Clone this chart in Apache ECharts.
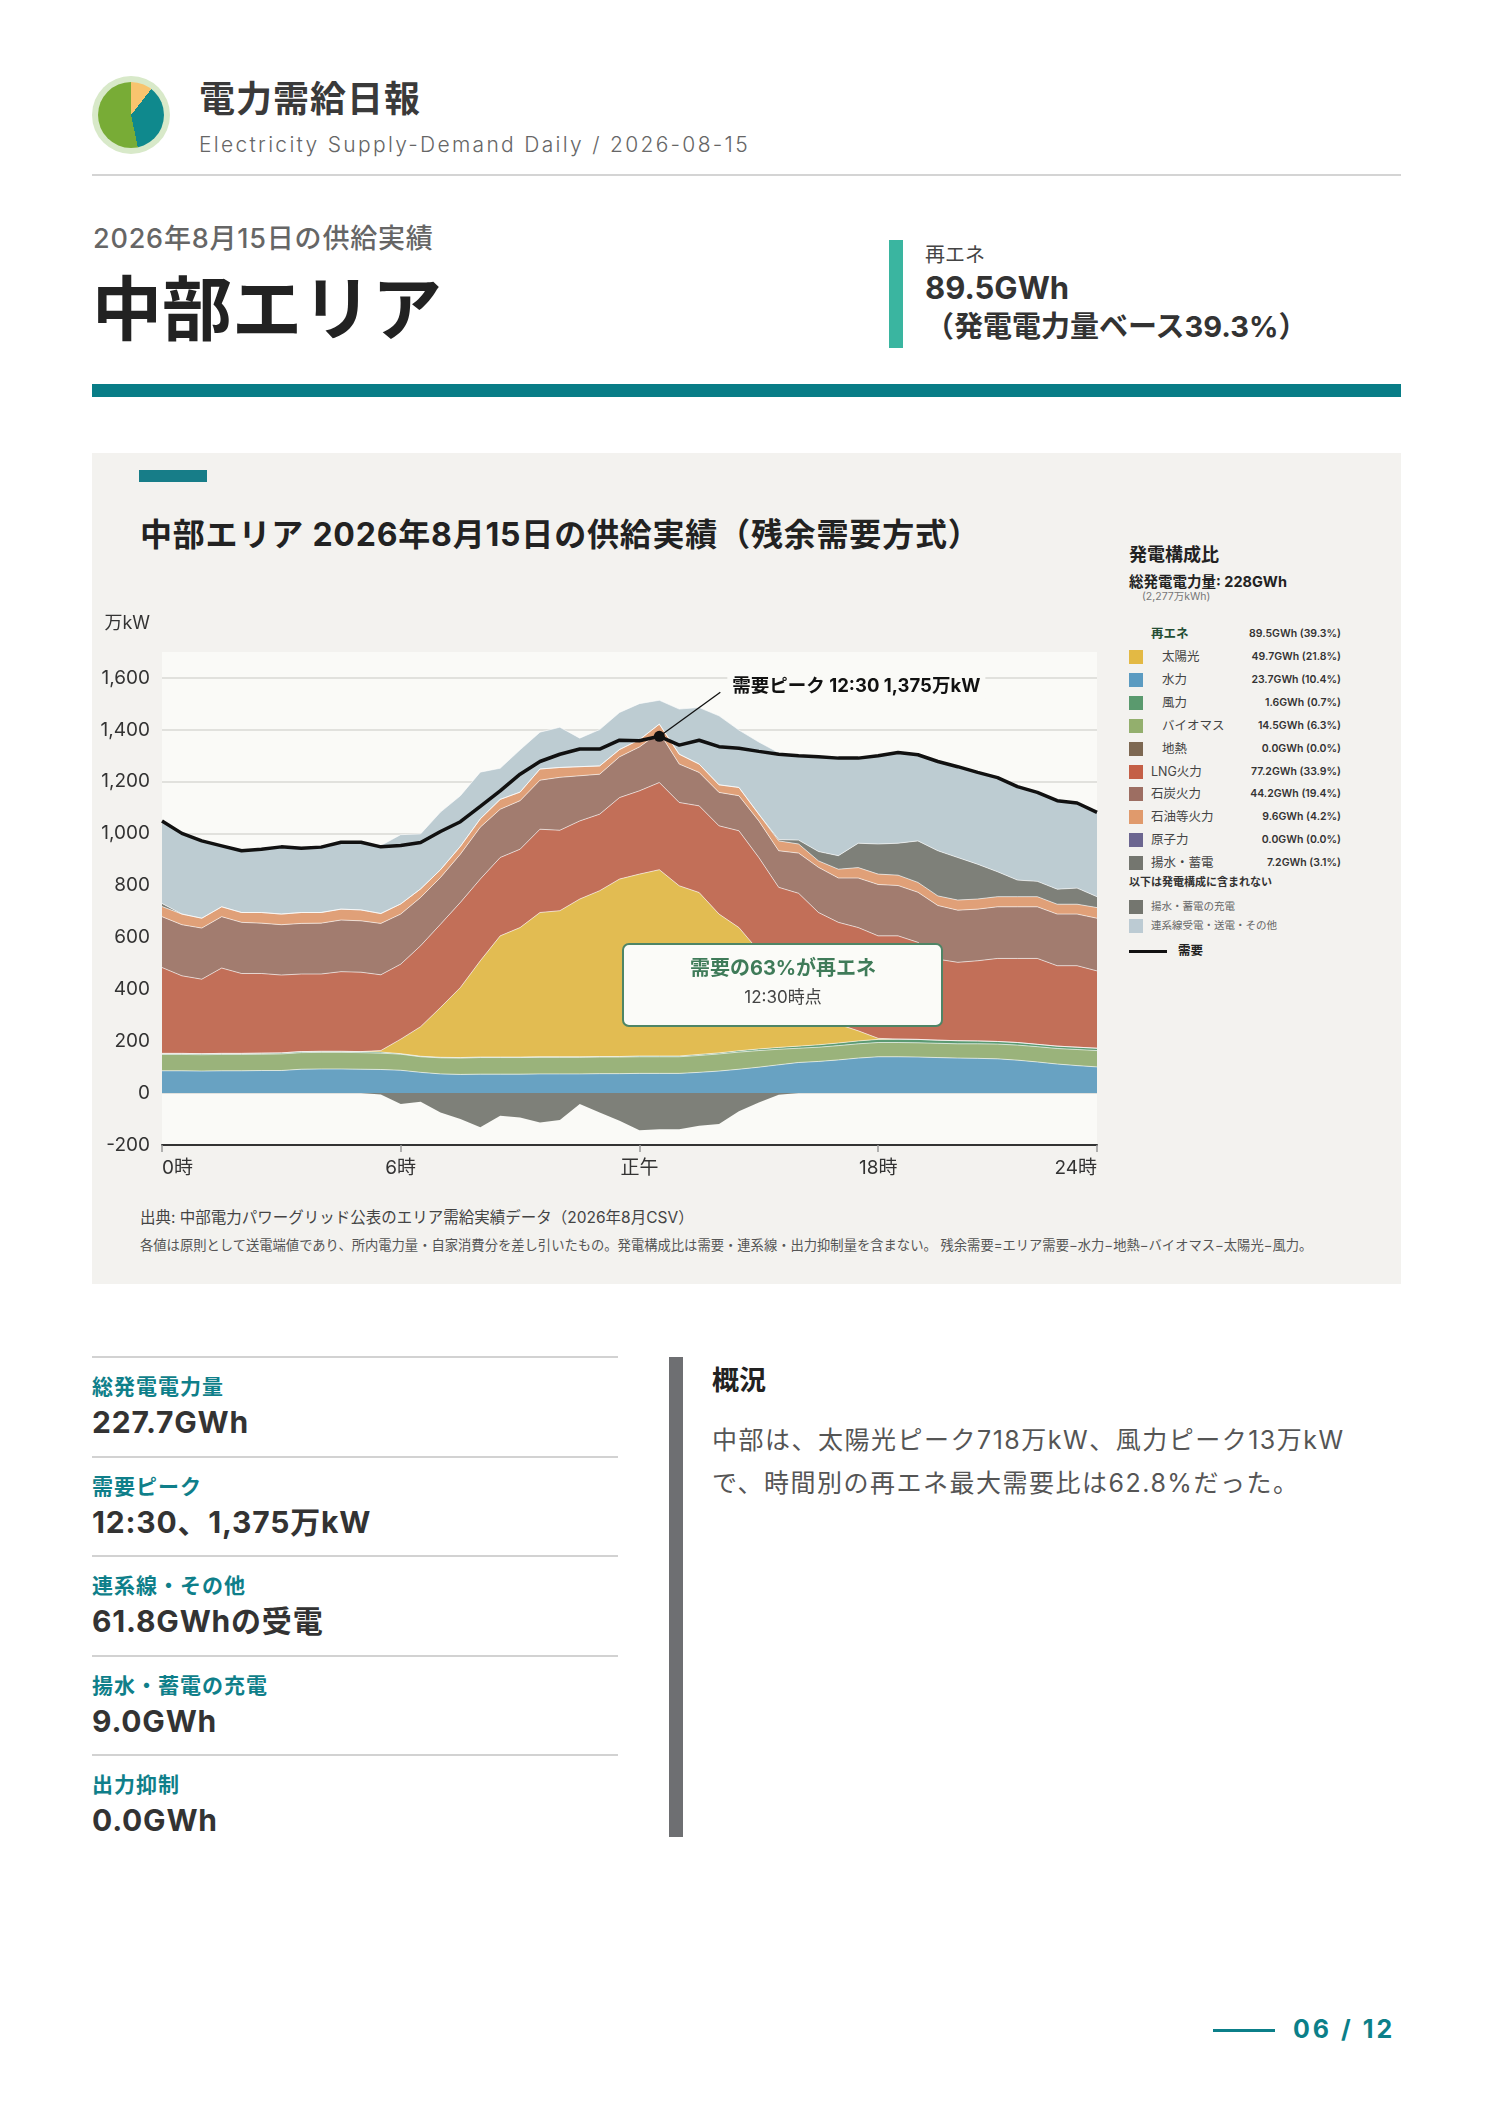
<!DOCTYPE html>
<html lang="ja">
<head>
<meta charset="utf-8">
<title>電力需給日報 中部エリア 2026-08-15</title>
<script src="https://cdn.jsdelivr.net/npm/echarts@6.0.0/dist/echarts.min.js"></script>
<style>
html,body{margin:0;padding:0;background:#fff;}
body{position:relative;width:1488px;height:2105px;overflow:hidden;font-family:"Inter","Noto Sans CJK JP","Noto Sans",sans-serif;color:#333;}
.a{position:absolute;white-space:nowrap;}
#logo{left:92px;top:76px;width:78px;height:78px;border-radius:50%;background:#d8e9c9;}
#logo .pie{position:absolute;left:6px;top:6px;width:66px;height:66px;border-radius:50%;
  background:conic-gradient(#f8c46e 0deg 38deg,#0f898d 38deg 168deg,#78ac36 168deg 360deg);}
#brand{left:199px;top:76px;line-height:46px;font-size:36px;font-weight:700;color:#3a3a3a;letter-spacing:1px;}
#sub{left:199px;top:130px;line-height:30px;font-size:21px;font-weight:300;color:#666;letter-spacing:2.3px;}
#rule1{left:92px;top:174px;width:1309px;height:2px;background:#d4d4d4;}
#date{left:93px;top:221px;line-height:36px;font-size:27px;font-weight:500;color:#666;letter-spacing:0.8px;}
#area{left:92px;top:265px;line-height:90px;font-size:70px;font-weight:700;color:#222;}
#kbar{left:889px;top:240px;width:14px;height:108px;background:#3ab5a0;}
#klab{left:925px;top:242px;line-height:26px;font-size:20px;color:#444;}
#kval{left:925px;top:270px;line-height:36px;font-size:31px;font-weight:700;color:#333;}
#ksub{left:925px;top:309px;line-height:36px;font-size:29px;font-weight:700;color:#333;}
#rule2{left:92px;top:384px;width:1309px;height:13px;background:#087d87;}
#panel{left:92px;top:453px;width:1309px;height:831px;background:#f3f2ef;}
#accent{left:139px;top:470px;width:68px;height:12px;background:#177d88;}
#ctitle{left:140px;top:512px;line-height:46px;font-size:32px;font-weight:700;color:#222;letter-spacing:0.8px;}
#chart{position:absolute;left:92px;top:600px;width:1020px;height:600px;}
#lgTitle{left:1129px;top:542px;line-height:26px;font-size:18px;font-weight:700;color:#222;}
#lgTotal{left:1129px;top:572px;line-height:20px;font-size:14.5px;font-weight:700;color:#222;}
#lgTotalSub{left:1142px;top:590px;line-height:14px;font-size:10.5px;color:#777;}
.row{position:absolute;left:1129px;width:212px;height:22px;line-height:22px;font-size:12.5px;color:#444;}
.row .sw{position:absolute;left:0;top:4px;width:14px;height:14px;}
.row .nm{position:absolute;top:0;}
.row .vl{position:absolute;right:0;top:0;font-size:10.5px;font-weight:600;color:#333;}
#lgNote{left:1129px;top:874px;line-height:16px;font-size:11px;font-weight:700;color:#333;}
#src{left:140px;top:1207px;line-height:22px;font-size:15.5px;color:#444;}
#note{left:140px;top:1236px;line-height:18px;font-size:13.3px;color:#555;}
.srule{position:absolute;left:92px;width:526px;height:2px;background:#d2d2d2;}
.slab{position:absolute;left:92px;line-height:28px;font-size:21px;font-weight:700;color:#0f7f8a;white-space:nowrap;letter-spacing:1px;}
.sval{position:absolute;left:92px;line-height:38px;font-size:30px;font-weight:700;color:#333;white-space:nowrap;letter-spacing:0.8px;}
#gbar{left:669px;top:1357px;width:14px;height:480px;background:#6e6f72;}
#gh{left:712px;top:1363px;line-height:36px;font-size:27px;font-weight:700;color:#222;}
#gp{left:712px;top:1419px;line-height:43px;font-size:25px;color:#555;letter-spacing:1.5px;}
#pline{left:1213px;top:2029px;width:62px;height:3px;background:#0b7f89;}
#pnum{left:1293px;top:2012px;line-height:34px;font-size:25px;font-weight:700;color:#0b7f89;letter-spacing:3px;}
</style>
</head>
<body>
<div class="a" id="logo"><div class="pie"></div></div>
<div class="a" id="brand">電力需給日報</div>
<div class="a" id="sub">Electricity Supply-Demand Daily / 2026-08-15</div>
<div class="a" id="rule1"></div>
<div class="a" id="date">2026年8月15日の供給実績</div>
<div class="a" id="area">中部エリア</div>
<div class="a" id="kbar"></div>
<div class="a" id="klab">再エネ</div>
<div class="a" id="kval">89.5GWh</div>
<div class="a" id="ksub">（発電電力量ベース39.3%）</div>
<div class="a" id="rule2"></div>

<div class="a" id="panel"></div>
<div class="a" id="accent"></div>
<div class="a" id="ctitle">中部エリア 2026年8月15日の供給実績（残余需要方式）</div>
<div id="chart"></div>
<div class="a" id="lgTitle">発電構成比</div>
<div class="a" id="lgTotal">総発電電力量: 228GWh</div>
<div class="a" id="lgTotalSub">(2,277万kWh)</div>
<div id="legend"></div>
<div class="a" id="lgNote">以下は発電構成に含まれない</div>
<div class="a" id="src">出典: 中部電力パワーグリッド公表のエリア需給実績データ（2026年8月CSV）</div>
<div class="a" id="note">各値は原則として送電端値であり、所内電力量・自家消費分を差し引いたもの。発電構成比は需要・連系線・出力抑制量を含まない。 残余需要=エリア需要−水力−地熱−バイオマス−太陽光−風力。</div>

<div id="stats"></div>
<div class="a" id="gbar"></div>
<div class="a" id="gh">概況</div>
<div class="a" id="gp">中部は、太陽光ピーク718万kW、風力ピーク13万kW<br>で、時間別の再エネ最大需要比は62.8%だった。</div>
<div class="a" id="pline"></div>
<div class="a" id="pnum">06 / 12</div>

<script>
// 30分値（万kW）
var times = ['0:00','0:30','1:00','1:30','2:00','2:30','3:00','3:30','4:00','4:30','5:00','5:30',
  '6:00','6:30','7:00','7:30','8:00','8:30','9:00','9:30','10:00','10:30','11:00','11:30',
  '12:00','12:30','13:00','13:30','14:00','14:30','15:00','15:30','16:00','16:30','17:00','17:30',
  '18:00','18:30','19:00','19:30','20:00','20:30','21:00','21:30','22:00','22:30','23:00','23:30'];
var xTickIdx = [0, 12, 24, 36, 47];
var xTickText = ['0時', '6時', '正午', '18時', '24時'];

var hydro = [86,86,85,86,86,87,87,92,93,93,92,91, 88,80,74,72,73,73,73,74,74,74,75,75,
  76,76,76,80,85,92,100,109,118,122,128,135, 140,140,139,137,135,134,132,127,120,112,106,101];
var biomass = [63,63,63,63,63,63,64,64,64,64,64,63, 62,60,62,63,64,64,64,64,64,64,64,64,
  64,64,64,65,66,66,64,60,55,55,55,55, 55,55,55,55,55,56,57,58,59,60,62,63];
var wind = [4,4,4,4,4,4,4,4,4,4,4,4, 2,2,2,2,2,2,2,2,2,2,2,2,
  3,3,3,4,4,5,6,7,8,9,10,11, 12,13,13,12,12,11,10,10,9,9,9,9];
var solar = [0,0,0,0,0,0,0,0,0,0,0,6, 56,114,192,270,371,467,499,556,563,608,639,684,
  701,718,656,624,535,475,378,284,204,134,72,39, 4,0,0,0,0,0,0,0,0,0,0,0];
var lng = [331,299,287,329,308,307,300,299,298,307,306,292, 289,312,321,328,315,302,302,321,310,301,295,314,
  321,336,321,334,340,373,360,333,385,376,393,398, 395,398,374,312,302,309,320,324,331,310,314,298];
var coal = [196,197,197,198,197,194,194,195,196,199,198,198, 193,186,180,186,200,186,187,189,204,174,154,157,
  169,193,148,129,129,135,141,141,155,174,171,191, 198,194,193,207,201,199,199,199,199,199,199,203];
var oil = [39,41,38,38,38,41,41,42,41,42,42,38, 39,33,30,30,32,38,33,43,38,35,32,28,
  28,32,38,32,29,32,26,38,35,25,34,40, 40,40,38,37,39,39,39,39,39,38,38,41];
var pumped = [12,0,0,0,0,0,0,0,0,0,0,0, 0,0,0,0,0,0,0,0,0,0,0,0,
  0,0,0,0,0,0,0,5,15,36,52,94, 116,123,160,174,164,134,96,64,59,58,62,42];
var tieLine = [318,311,298,235,238,244,259,248,252,258,261,262, 267,212,222,195,180,120,163,142,155,110,140,143,
  139,92,174,218,266,221,278,335,325,365,376,328, 340,350,332,344,350,354,363,360,343,341,328,325];
var charge = [0,0,0,0,0,0,0,0,0,0,0,-5, -42,-33,-75,-100,-132,-87,-94,-113,-104,-42,-75,-107,
  -143,-139,-139,-126,-119,-70,-36,-6,0,0,0,0, 0,0,0,0,0,0,0,0,0,0,0,0];
var demand = [1049,1001,972,953,934,940,949,944,948,967,967,949, 954,966,1008,1046,1105,1165,1229,1278,1306,1326,1326,1360,
  1358,1375,1341,1360,1335,1329,1317,1306,1300,1296,1291,1291, 1300,1313,1304,1278,1258,1236,1216,1181,1159,1127,1118,1082];

// 発電構成比（凡例）
var genNames = ['太陽光','水力','風力','バイオマス','地熱','LNG火力','石炭火力','石油等火力','原子力','揚水・蓄電'];
var genGWh = [49.7, 23.7, 1.6, 14.5, 0.0, 77.2, 44.2, 9.6, 0.0, 7.2];
var genPct = [21.8, 10.4, 0.7, 6.3, 0.0, 33.9, 19.4, 4.2, 0.0, 3.1];
var genRenew = [true, true, true, true, true, false, false, false, false, false];
var genSwatch = ['#e3b944','#5b9bc1','#5a9a6e','#93af6d','#7d6852','#c45f46','#9d6e62','#e09a6c','#6c6690','#74766f'];
var renewGWh = 89.5, renewPct = 39.3;
var otherNames = ['揚水・蓄電の充電', '連系線受電・送電・その他'];
var otherSwatch = ['#74766f', '#bccbd3'];

var statLabels = ['総発電電力量', '需要ピーク', '連系線・その他', '揚水・蓄電の充電', '出力抑制'];
var statValues = ['227.7GWh', '12:30、1,375万kW', '61.8GWhの受電', '9.0GWh', '0.0GWh'];

var FONT = '"Inter","Noto Sans CJK JP","Noto Sans",sans-serif';

// ---- legend (HTML) ----
var lg = document.getElementById('legend');
function addRow(top, color, name, indent, value, nameStyle) {
  var r = document.createElement('div');
  r.className = 'row';
  r.style.top = top + 'px';
  var html = '';
  if (color) html += '<span class="sw" style="background:' + color + '"></span>';
  html += '<span class="nm" style="left:' + indent + 'px;' + (nameStyle || '') + '">' + name + '</span>';
  if (value) html += '<span class="vl">' + value + '</span>';
  r.innerHTML = html;
  lg.appendChild(r);
}
function fmt(g, p) { return g.toFixed(1) + 'GWh (' + p.toFixed(1) + '%)'; }
addRow(623, null, '再エネ', 22, fmt(renewGWh, renewPct), 'font-weight:700;color:#234d33;');
genNames.forEach(function (n, i) {
  addRow(646 + i * 22.9, genSwatch[i], n, genRenew[i] ? 33 : 22, fmt(genGWh[i], genPct[i]));
});
addRow(896, otherSwatch[0], otherNames[0], 22, null, 'font-size:10.5px;color:#666;');
addRow(915, otherSwatch[1], otherNames[1], 22, null, 'font-size:10.5px;color:#666;');
(function () {
  var r = document.createElement('div');
  r.className = 'row';
  r.style.top = '940px';
  r.innerHTML = '<span style="position:absolute;left:0;top:10px;width:38px;height:3px;background:#111"></span>' +
    '<span class="nm" style="left:49px;font-weight:700;color:#222;">需要</span>';
  lg.appendChild(r);
})();

// ---- stats (HTML) ----
var st = document.getElementById('stats');
var ruleTops = [1356, 1456, 1555, 1655, 1754];
statLabels.forEach(function (l, i) {
  var rule = document.createElement('div');
  rule.className = 'srule';
  rule.style.top = ruleTops[i] + 'px';
  st.appendChild(rule);
  var lab = document.createElement('div');
  lab.className = 'slab';
  lab.style.top = (ruleTops[i] + 17) + 'px';
  lab.textContent = l;
  st.appendChild(lab);
  var val = document.createElement('div');
  val.className = 'sval';
  val.style.top = (ruleTops[i] + 47) + 'px';
  val.textContent = statValues[i];
  st.appendChild(val);
});

// ---- chart ----
var chart = echarts.init(document.getElementById('chart'));
var edge = { color: 'rgba(255,255,255,0.6)', width: 1 };
function band(name, data, color) {
  return {
    name: name, type: 'line', stack: 'supply', data: data, symbol: 'none',
    lineStyle: edge, areaStyle: { color: color, opacity: 1 }, itemStyle: { color: color },
    emphasis: { disabled: true }, silent: true
  };
}
function showTick(index) { return xTickIdx.indexOf(index) >= 0; }

var option = {
  animation: false,
  textStyle: { fontFamily: FONT },
  grid: { left: 70, top: 52, width: 935, height: 493, show: true, backgroundColor: '#fafaf7', borderWidth: 0 },
  xAxis: [{
    type: 'category', data: times, boundaryGap: false,
    axisLine: { show: false }, axisTick: { show: false }, splitLine: { show: false },
    axisLabel: {
      interval: showTick, color: '#333', fontSize: 19, margin: 14, fontFamily: FONT,
      alignMinLabel: 'left', alignMaxLabel: 'right',
      formatter: function (v, idx) { return xTickText[xTickIdx.indexOf(idx)]; }
    }
  }, {
    type: 'category', data: times, boundaryGap: false, position: 'bottom', z: 10,
    axisLine: { onZero: true, lineStyle: { color: '#333', width: 2 } },
    axisTick: { show: true, interval: showTick, length: 7, lineStyle: { color: '#999', width: 1.5 } },
    axisLabel: { show: false }, splitLine: { show: false }
  }],
  yAxis: {
    type: 'value', min: -200, max: 1700, interval: 200,
    name: '万kW', nameLocation: 'end', nameGap: 19,
    nameTextStyle: { color: '#333', fontSize: 18, align: 'right', padding: [0, 12, 0, 0], fontFamily: FONT },
    axisLine: { show: false }, axisTick: { show: false },
    axisLabel: {
      color: '#333', fontSize: 19, margin: 12, showMaxLabel: false, fontFamily: FONT,
      formatter: function (v) { return v.toLocaleString('en-US'); }
    },
    splitLine: { lineStyle: { color: '#d9d9d5', width: 1.5 }, showMaxLine: false }
  },
  series: [
    band('水力', hydro, '#68a2c2'),
    band('バイオマス', biomass, '#9ab37b'),
    band('風力', wind, '#5b9a72'),
    band('太陽光', solar, '#e2bc52'),
    band('LNG火力', lng, '#c26f58'),
    band('石炭火力', coal, '#a27c6f'),
    band('石油等火力', oil, '#e0a078'),
    band('揚水・蓄電', pumped, '#7e8079'),
    band('連系線受電・送電・その他', tieLine, '#bdccd2'),
    {
      name: '揚水・蓄電の充電', type: 'line', data: charge, symbol: 'none', silent: true,
      lineStyle: { width: 0 }, areaStyle: { color: '#7e8079', opacity: 1 }, itemStyle: { color: '#7e8079' }
    },
    {
      name: '需要', type: 'line', data: demand, symbol: 'none', z: 6, silent: true,
      lineStyle: { color: '#111', width: 3.5 }, itemStyle: { color: '#111' },
      markPoint: {
        symbol: 'circle', symbolSize: 11, itemStyle: { color: '#111' }, label: { show: false },
        data: [{ coord: [times[25], demand[25]] }]
      }
    }
  ]
};
chart.setOption(option);

var peakIdx = demand.indexOf(Math.max.apply(null, demand));
var p = chart.convertToPixel({ xAxisIndex: 0, yAxisIndex: 0 }, [times[peakIdx], demand[peakIdx]]);
chart.setOption({
  graphic: [
    { type: 'line', z: 20, silent: true,
      shape: { x1: p[0] + 3, y1: p[1] - 2, x2: p[0] + 61, y2: p[1] - 44 },
      style: { stroke: '#111', lineWidth: 1.3 } },
    { type: 'text', z: 20, silent: true, x: p[0] + 68, y: p[1] - 50,
      style: { text: '需要ピーク ' + times[peakIdx] + ' ' + demand[peakIdx].toLocaleString('en-US') + '万kW',
        font: 'bold 18.5px ' + FONT, fill: '#111', verticalAlign: 'middle',
        backgroundColor: '#fafaf7', padding: [3, 5] } },
    { type: 'rect', z: 20, silent: true,
      shape: { x: 531, y: 344, width: 319, height: 82, r: 6 },
      style: { fill: '#fbfbf8', stroke: '#4e8566', lineWidth: 2 } },
    { type: 'text', z: 21, silent: true, x: 691, y: 369,
      style: { text: '需要の63%が再エネ', font: 'bold 20px ' + FONT, fill: '#3f7b59', align: 'center', verticalAlign: 'middle' } },
    { type: 'text', z: 21, silent: true, x: 691, y: 398,
      style: { text: times[peakIdx] + '時点', font: '17px ' + FONT, fill: '#444', align: 'center', verticalAlign: 'middle' } }
  ]
});
</script>
</body>
</html>
